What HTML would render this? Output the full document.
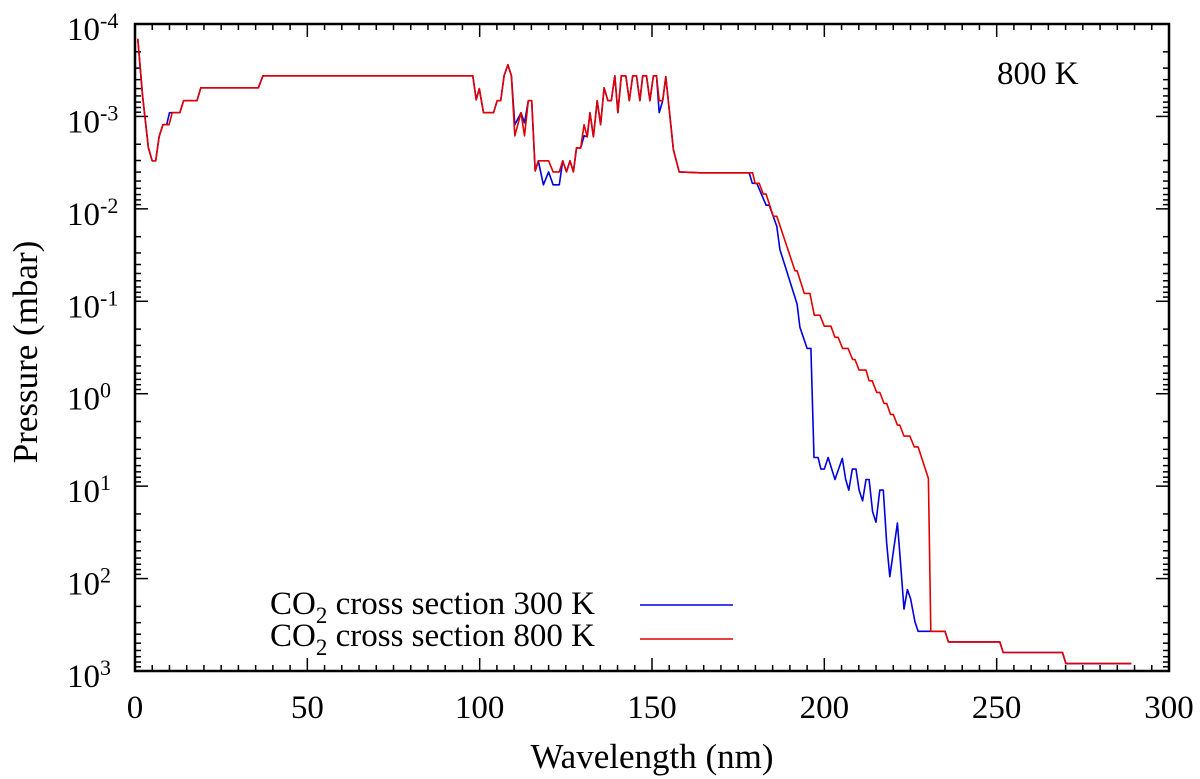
<!DOCTYPE html>
<html><head><meta charset="utf-8"><style>
body{margin:0;background:#fff}
svg{display:block;font-family:"Liberation Serif",serif}
</style></head><body>
<svg id="chart" width="1200" height="779" viewBox="0 0 1200 779">
<g id="ticks"></g>
<g id="series"></g>
<rect x="135" y="24" width="1034" height="647" fill="none" stroke="#000" stroke-width="2.5"/>
<g id="labels" font-size="33"></g>
<text x="37" y="352" font-size="35" text-anchor="middle" transform="rotate(-90 37 352)">Pressure (mbar)</text>
<text x="652" y="768" font-size="35" text-anchor="middle">Wavelength (nm)</text>
<text x="997" y="84" font-size="33">800 K</text>
<g font-size="33">
<text x="270" y="614">CO<tspan font-size="23" dy="9">2</tspan><tspan dy="-9"> cross section 300 K</tspan></text>
<line x1="640" y1="605" x2="733" y2="605" stroke="#0000dd" stroke-width="1.6"/>
<text x="270" y="646">CO<tspan font-size="23" dy="9">2</tspan><tspan dy="-9"> cross section 800 K</tspan></text>
<line x1="640" y1="639" x2="733" y2="639" stroke="#e00000" stroke-width="1.6"/>
</g>
</svg>
<script>
const xTicks=[0,50,100,150,200,250,300];
const yExpTicks=[-4,-3,-2,-1,0,1,2,3];
const red300Wl=[0.8,2.2,3.9,5.0,6.0,7.0,8.1,9.2,10.0,13.0,14.1,18.0,19.1,35.8,37.1,98.0,99.0,99.9,101.1,104.0,105.1,106.1,107.1,108.2,109.2,110.2,112.0,113.0,114.1,115.1,116.1,117.0,118.5,120.0,121.3,123.1,124.1,125.2,126.2,127.2,128.1,129.3,130.3,131.2,132.0,133.0,134.1,135.1,136.1,137.2,138.2,139.2,140.1,141.1,142.4,143.4,144.4,145.5,146.5,147.3,148.4,149.4,150.4,151.3,152.1,153.1,154.0,156.2,157.9,164,178.2,179.1,180.4,183.1,184,186.2,187.1,192.1,192.9,195.0,196.1,197.0,198.2,199.0,200.0,201.1,203.1,205.2,206.2,207.1,208.1,209.2,210.1,211.1,212.1,213.0,214.0,215.0,216.1,217.1,218.1,219.0,221.2,221.9,223.1,224.1,225.0,226.3,227.2,230.9,235.0,236.0,250.9,251.9,269.1,270.1,289.1];
const blue300LogP=[-3.84,-3.22,-2.66,-2.52,-2.52,-2.78,-2.91,-2.91,-3.04,-3.04,-3.17,-3.17,-3.31,-3.31,-3.44,-3.44,-3.18,-3.30,-3.04,-3.04,-3.17,-3.17,-3.44,-3.56,-3.44,-2.91,-3.04,-2.93,-3.17,-3.17,-2.41,-2.52,-2.26,-2.40,-2.26,-2.26,-2.52,-2.40,-2.52,-2.40,-2.66,-2.66,-2.79,-2.78,-3.04,-2.78,-3.17,-2.91,-3.31,-3.17,-3.17,-3.44,-3.04,-3.44,-3.44,-3.17,-3.44,-3.44,-3.17,-3.44,-3.44,-3.17,-3.44,-3.44,-3.04,-3.17,-3.43,-2.64,-2.40,-2.39,-2.39,-2.276,-2.276,-2.04,-2.04,-1.81,-1.56,-0.97,-0.72,-0.49,-0.49,0.69,0.69,0.816,0.816,0.69,0.928,0.70,0.928,1.043,0.816,0.816,1.043,1.16,0.928,0.928,1.278,1.39,1.043,1.043,1.62,1.98,1.40,1.725,2.33,2.12,2.215,2.47,2.57,2.57,2.57,2.685,2.685,2.80,2.80,2.92,2.92];
const red800Wl=[0.8,2.2,3.9,5.0,6.0,7.0,8.1,9.9,10.8,13.0,14.1,18.0,19.1,35.8,37.1,98.0,99.0,99.9,101.1,104.0,105.1,106.1,107.1,108.2,109.2,110.2,112.0,113.0,114.1,115.1,116.1,117.0,120.0,121.3,123.1,124.1,125.2,126.2,127.2,128.1,129.3,130.3,131.2,132.0,133.0,134.1,135.1,136.1,137.2,138.2,139.2,140.1,141.1,142.4,143.4,144.4,145.5,146.5,147.3,148.4,149.4,150.4,151.3,152.1,153.1,154.0,156.2,157.9,164,178.4,179.2,179.9,181.1,182.3,183.1,185.2,186.2,191.5,192.1,194.2,195.8,197.1,198.7,200.0,201.9,203.1,204.0,205.3,206.9,208.2,208.9,210.1,212.1,213.0,213.9,215.2,216.1,217.3,218.1,219.2,220.0,221.2,221.9,223.1,224.8,226.1,227.2,230.2,230.9,235.0,236.0,250.9,251.9,269.1,270.1,289.1];
const red800LogP=[-3.84,-3.22,-2.66,-2.52,-2.52,-2.78,-2.91,-2.91,-3.04,-3.04,-3.17,-3.17,-3.31,-3.31,-3.44,-3.44,-3.18,-3.30,-3.04,-3.04,-3.17,-3.17,-3.44,-3.56,-3.44,-2.79,-3.04,-2.79,-3.17,-3.17,-2.41,-2.52,-2.52,-2.40,-2.40,-2.52,-2.40,-2.52,-2.40,-2.66,-2.66,-2.91,-2.78,-3.04,-2.78,-3.17,-2.91,-3.31,-3.17,-3.17,-3.44,-3.04,-3.44,-3.44,-3.17,-3.44,-3.44,-3.17,-3.44,-3.44,-3.17,-3.44,-3.44,-3.17,-3.17,-3.43,-2.64,-2.40,-2.39,-2.39,-2.39,-2.276,-2.276,-2.16,-2.16,-1.92,-1.92,-1.33,-1.33,-1.085,-1.085,-0.85,-0.85,-0.73,-0.73,-0.61,-0.61,-0.49,-0.49,-0.37,-0.37,-0.255,-0.255,-0.14,-0.14,-0.014,-0.014,0.105,0.105,0.224,0.224,0.34,0.34,0.459,0.459,0.575,0.575,0.917,2.57,2.57,2.685,2.685,2.80,2.80,2.92,2.92];
const blue300Wl=red300Wl;

const X0=135,X1=1169,Y0=24,Y1=671,E0=-4,E1=3;
const xS=v=>X0+(v-0)/(300-0)*(X1-X0);
const yS=e=>Y0+(e-E0)/(E1-E0)*(Y1-Y0);
const NS='http://www.w3.org/2000/svg';
function mk(tag,attrs,parent){const el=document.createElementNS(NS,tag);for(const k in attrs)el.setAttribute(k,attrs[k]);parent.appendChild(el);return el;}
const tg=document.getElementById('ticks'),lg=document.getElementById('labels'),sg=document.getElementById('series');
for(let v=0;v<=300;v+=5){
  const major=v%50===0,L=major?13:6,x=xS(v);
  const t1=mk('line',{x1:x,y1:Y1,x2:x,y2:Y1-L,stroke:'#000','stroke-width':1.5},tg);
  
  
  const t2=mk('line',{x1:x,y1:Y0,x2:x,y2:Y0+L,stroke:'#000','stroke-width':1.5},tg);
  
  
}
xTicks.forEach(v=>{
  const t=mk('text',{x:xS(v),y:718,'text-anchor':'middle'},lg);t.textContent=v;
  
  
});
for(let e=E0;e<E1;e++){for(let m=1;m<10;m++){
  const y=yS(e+Math.log10(m)),L=m===1?13:6;
  const a=mk('line',{x1:X0,y1:y,x2:X0+L,y2:y,stroke:'#000','stroke-width':1.5},tg);
  
  
  const b=mk('line',{x1:X1,y1:y,x2:X1-L,y2:y,stroke:'#000','stroke-width':1.5},tg);
  
  
}}
yExpTicks.forEach(e=>{
  const t=mk('text',{x:100,y:yS(e)+16,'text-anchor':'end'},lg);t.textContent='10';
  
  
  const s=mk('text',{x:100,y:yS(e)+4,'font-size':22},lg);s.textContent=String(e);
  
  
});
function draw(wl,lp,color,name){
  const d=wl.map((w,i)=>(i?'L':'M')+xS(w).toFixed(1)+' '+yS(lp[i]).toFixed(1)).join(' ');
  const p=mk('path',{d:d,fill:'none',stroke:color,'stroke-width':1.6,'stroke-linejoin':'round'},sg);
  
  
}
draw(blue300Wl,blue300LogP,'#0000dd','series-300k');
draw(red800Wl,red800LogP,'#e00000','series-800k');
</script>
</body></html>
